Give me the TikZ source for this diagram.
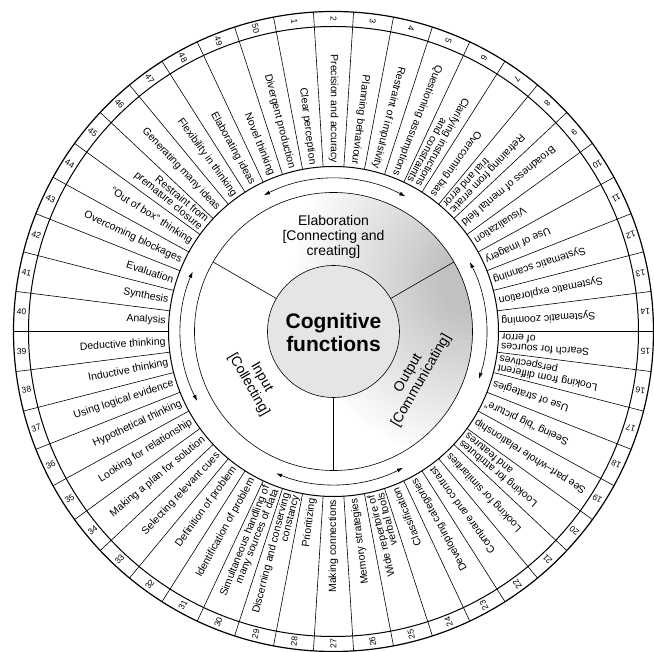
\documentclass[tikz,border=0pt]{standalone}
\usepackage{fontspec}
\setmainfont{Liberation Sans}
\usetikzlibrary{arrows.meta}
\tikzset{
  lbl/.style={font=\fontsize{10.5}{9.8}\selectfont, align=right, anchor=east, inner sep=1pt},
  num/.style={font=\fontsize{8.5}{9}\selectfont, inner sep=0pt},
  sect/.style={font=\fontsize{14}{15}\selectfont, align=center},
  arr/.style={{Latex[length=6pt,width=4pt]}-{Latex[length=6pt,width=4pt]}, line width=0.6pt},
}
\begin{document}
\begin{tikzpicture}[line width=0.6pt]
  \useasboundingbox (-333.5pt,-320.5pt) rectangle (320.5pt,331.5pt);
  % Shaded middle ring
  \begin{scope}
    \clip (0,0) circle (139pt);
    \foreach \i in {0,...,29} {
      \pgfmathsetmacro\c{2+\i*1.6}
      \pgfmathsetmacro\r{180-5*\i}
      \fill[gray!\c] (20:150pt) circle (\r pt);
    }
  \end{scope}
  \filldraw[fill=gray!20] (0,0) circle (66pt);
  % Rings
  \draw (0,0) circle (139pt);
  \draw[line width=1pt] (0,0) circle (165pt);
  \draw[line width=1pt] (0,0) circle (305pt);
  \draw[line width=1.2pt] (0,0) circle (320pt);
  % Dividers
  \foreach \a in {30,150,270}
    \draw (\a:66pt) -- (\a:139pt);
  \foreach \k in {0,...,49}
    \draw ({100.8-7.2*\k}:165pt) -- ({100.8-7.2*\k}:320pt);
  % Arrows
  \draw[arr] (117:153pt) arc[start angle=117, end angle=62, radius=153pt];
  \draw[arr] (27:153pt) arc[start angle=27, end angle=-18, radius=153pt];
  \draw[arr] (-63:153pt) arc[start angle=-63, end angle=-112, radius=153pt];
  \draw[arr] (157:153pt) arc[start angle=157, end angle=207, radius=153pt];
  % Titles
  \node[font=\fontsize{21}{23}\selectfont\bfseries, align=center] (cog) at (0,-1pt) {Cognitive\\functions};
  \node[sect] (elab) at (0,95pt) {Elaboration\\{[}Connecting and\\creating]};
  \node[sect, rotate=-60] (inp) at (-78.5pt,-49.5pt) {Input\\{[}Collecting]};
  \node[sect, rotate=60] (outp) at (81.5pt,-45.5pt) {Output\\{[}Communicating]};
  % Functions and numbers
  \foreach \n/\t in {1/Clear perception, 2/Precision and accuracy, 3/Planning behaviour,
      4/Restraint of impulsivity, 5/Questioning assumptions,
      6/{Clarifying instructions\\and constraints}, 7/Overcoming bias,
      8/{Refraining from erratic\\trial and error}, 9/Broadness of mental field,
      10/Visualization, 11/Use of imagery, 12/Systematic scanning,
      13/Systematic exploration, 14/Systematic zooming,
      15/{Search for sources\\of error}, 16/{Looking from different\\perspectives},
      17/Use of strategies, 18/Seeing ``big picture'', 19/See part--whole relationship,
      20/{Looking for attributes\\and features}, 21/Looking for similarities,
      22/Compare and contrast, 23/Developing categories, 24/Classification,
      25/{Wide repertoire of\\verbal tools}, 26/Memory strategies, 27/Making connections,
      28/Prioritizing, 29/{Discerning and conserving\\constancy},
      30/{Simultaneous handling of\\many sources of data}, 31/Identification of problem,
      32/Definition of problem, 33/Selecting relevant cues, 34/Making a plan for solution,
      35/Looking for relationship, 36/Hypothetical thinking, 37/Using logical evidence,
      38/Inductive thinking, 39/Deductive thinking, 40/Analysis, 41/Synthesis,
      42/Evaluation, 43/Overcoming blockages, 44/``Out of box'' thinking,
      45/{Restraint from\\premature closure}, 46/Generating many ideas,
      47/Flexibility in thinking, 48/Elaborating ideas, 49/Novel thinking,
      50/Divergent production} {
    \pgfmathsetmacro\a{104.4-7.2*\n}
    \node[lbl, rotate=\a+180] (f\n) at (\a:167pt) {\t};
    \node[num, rotate=\a+180] (n\n) at (\a:312.5pt) {\n};
  }
\end{tikzpicture}
\end{document}
